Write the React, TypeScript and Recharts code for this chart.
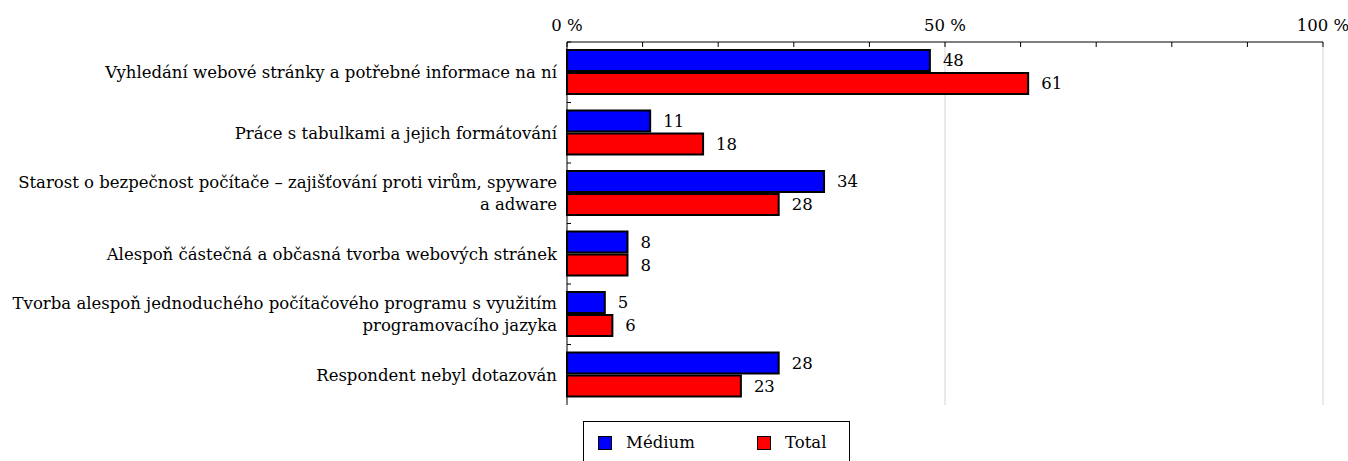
import React from "react";
import {
  BarChart,
  Bar,
  XAxis,
  YAxis,
  CartesianGrid,
  Legend,
  LabelList,
} from "recharts";

// ─── Data ────────────────────────────────────────────────────────────────────

const categories = [
  "Vyhledání webové stránky a potřebné informace na ní",
  "Práce s tabulkami a jejich formátování",
  "Starost o bezpečnost počítače – zajišťování proti virům, spyware\na adware",
  "Alespoň částečná a občasná tvorba webových stránek",
  "Tvorba alespoň jednoduchého počítačového programu s využitím\nprogramovacího jazyka",
  "Respondent nebyl dotazován",
];

const medium = [48, 11, 34, 8, 5, 28];
const total = [61, 18, 28, 8, 6, 23];

const xTicks = [0, 10, 20, 30, 40, 50, 60, 70, 80, 90, 100];
const labelledTicks = [0, 50, 100];
const gridValues = [50, 100];

const seriesNames = { medium: "Médium", total: "Total" };

const data = categories.map((name, i) => ({ name, medium: medium[i], total: total[i] }));

// ─── Style ───────────────────────────────────────────────────────────────────

const FONT = "'DejaVu Serif', 'Liberation Serif', serif";
const FONT_SIZE = 16.5;
const BLUE = "#0000ff";
const RED = "#ff0000";

// ─── Ticks ───────────────────────────────────────────────────────────────────

function PercentTick(props: any) {
  const { x, y, payload } = props;
  const axisY = y + 10;
  const v = payload.value;
  return (
    <g>
      <line x1={x} x2={x} y1={axisY} y2={axisY + 5} stroke="#000" />
      {labelledTicks.includes(v) && (
        <text x={x} y={axisY - 11} textAnchor="middle" fontFamily={FONT} fontSize={FONT_SIZE} fill="#000">
          {v} %
        </text>
      )}
    </g>
  );
}

function CategoryTick(props: any) {
  const { x, y, payload } = props;
  const lines = String(payload.value).split("\n");
  const lh = 22;
  const off = payload.offset ?? 0;
  const axisX = x + 10;
  return (
    <g>
      <line x1={axisX} x2={axisX + 4} y1={y - off} y2={y - off} stroke="#000" />
      <text
        x={x}
        y={y - ((lines.length - 1) * lh) / 2}
        textAnchor="end"
        dominantBaseline="central"
        fontFamily={FONT}
        fontSize={FONT_SIZE}
        fill="#000"
      >
        {lines.map((l, i) => (
          <tspan key={i} x={x} dy={i === 0 ? 0 : lh}>
            {l}
          </tspan>
        ))}
      </text>
    </g>
  );
}

function LegendBox() {
  const item = (color: string, label: string, width: number) => (
    <div style={{ display: "flex", alignItems: "center", width }}>
      <span
        style={{
          display: "inline-block",
          width: 12,
          height: 12,
          background: color,
          border: "1.5px solid #000",
          marginRight: 14,
        }}
      />
      <span>{label}</span>
    </div>
  );
  return (
    <div
      style={{
        width: 267,
        height: 46,
        boxSizing: "border-box",
        border: "1.5px solid #000",
        display: "flex",
        alignItems: "flex-start",
        paddingTop: 11,
        paddingLeft: 14,
        fontFamily: FONT,
        fontSize: FONT_SIZE,
        color: "#000",
      }}
    >
      {item(BLUE, seriesNames.medium, 159)}
      {item(RED, seriesNames.total, 90)}
    </div>
  );
}

// ─── Chart ───────────────────────────────────────────────────────────────────

export default function App() {
  const gridX = (args: any) => {
    const scale = args?.xAxis?.scale;
    if (typeof scale === "function") return gridValues.map((v) => scale(v));
    if (scale && typeof scale.map === "function") return gridValues.map((v) => scale.map(v));
    const o = args.offset;
    return gridValues.map((v) => o.left + (v / 100) * o.width);
  };

  return (
    <div style={{ position: "absolute", left: 0, top: 0, fontFamily: FONT }}>
      <BarChart
        width={1348}
        height={461}
        data={data}
        layout="vertical"
        margin={{ top: 12, right: 25, bottom: 10, left: 0 }}
        barSize={21}
        barGap={2}
      >
        <CartesianGrid
          horizontal={false}
          stroke="#d4d4d4"
          verticalCoordinatesGenerator={gridX}
        />
        <XAxis
          type="number"
          orientation="top"
          domain={[0, 100]}
          ticks={xTicks}
          interval={0}
          height={30}
          tickSize={0}
          tickMargin={10}
          tickLine={false}
          axisLine={{ stroke: "#000" }}
          tick={<PercentTick />}
        />
        <YAxis
          type="category"
          dataKey="name"
          width={567}
          interval={0}
          tickSize={0}
          tickMargin={10}
          tickLine={false}
          axisLine={{ stroke: "#000" }}
          tick={<CategoryTick />}
        />
        <Legend
          verticalAlign="bottom"
          wrapperStyle={{ left: 583, bottom: -6, width: 267, height: 46 }}
          content={() => <LegendBox />}
        />
        <Bar dataKey="medium" name={seriesNames.medium} fill={BLUE} stroke="#000" strokeWidth={2} isAnimationActive={false}>
          <LabelList dataKey="medium" position="right" offset={13} fill="#000" fontFamily={FONT} fontSize={FONT_SIZE} />
        </Bar>
        <Bar dataKey="total" name={seriesNames.total} fill={RED} stroke="#000" strokeWidth={2} isAnimationActive={false}>
          <LabelList dataKey="total" position="right" offset={13} fill="#000" fontFamily={FONT} fontSize={FONT_SIZE} />
        </Bar>
      </BarChart>
    </div>
  );
}
